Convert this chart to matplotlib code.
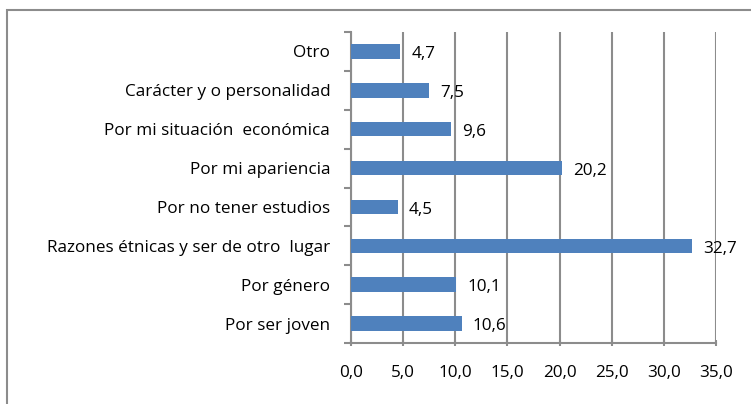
import matplotlib
matplotlib.use("Agg")
import matplotlib.pyplot as plt
from matplotlib.patches import Rectangle

categories = ["Por ser joven", "Por género", "Razones étnicas y ser de otro  lugar",
              "Por no tener estudios", "Por mi apariencia", "Por mi situación  económica",
              "Carácter y o personalidad", "Otro"]
values = [10.6, 10.1, 32.7, 4.5, 20.2, 9.6, 7.5, 4.7]
xticks = [0, 5, 10, 15, 20, 25, 30, 35]

plt.rcParams['font.family'] = ['Open Sans', 'DejaVu Sans']
gray = '#8c8c8c'
bar_color = '#4f81bd'
fs = 12.3

fig = plt.figure(figsize=(7.51, 4.04), dpi=100)
ax = fig.add_axes([351/751, 1-343/404, (716-351)/751, (343-32)/404])

ypos = list(range(len(categories)))
ax.barh(ypos, values, height=0.37, color=bar_color, zorder=3)
for y, v in zip(ypos, values):
    ax.annotate(f"{v:.1f}".replace('.', ','), xy=(v, y), xytext=(8, -2),
                textcoords='offset points', va='center', ha='left', fontsize=fs,
                color='black', zorder=4)

ax.set_xlim(0, 35)
ax.set_ylim(-0.5, len(categories)-0.5)
ax.set_xticks(xticks)
ax.set_xticklabels([f"{t:.1f}".replace('.', ',') for t in xticks], fontsize=fs)
ax.set_yticks(ypos)
ax.set_yticklabels(categories, fontsize=fs)
ax.tick_params(axis='y', which='major', length=0, pad=15)
ax.set_yticks([i - 0.5 for i in range(len(categories)+1)], minor=True)
ax.tick_params(axis='y', which='minor', length=5, width=1.5, color=gray, direction='out')
ax.tick_params(axis='x', length=5, width=1.5, color=gray, direction='inout', pad=13)
ax.grid(axis='x', color=gray, linewidth=1.5, zorder=0)
for s in ['top', 'right']:
    ax.spines[s].set_visible(False)
for s in ['left', 'bottom']:
    ax.spines[s].set_color(gray)
    ax.spines[s].set_linewidth(1.5)

fig.patches.append(Rectangle((7/751, -0.2), 1.2, 0.2 + (1 - 10/404), transform=fig.transFigure,
                             fill=False, edgecolor=gray, linewidth=1.5))

fig.savefig("out.png", dpi=100)
